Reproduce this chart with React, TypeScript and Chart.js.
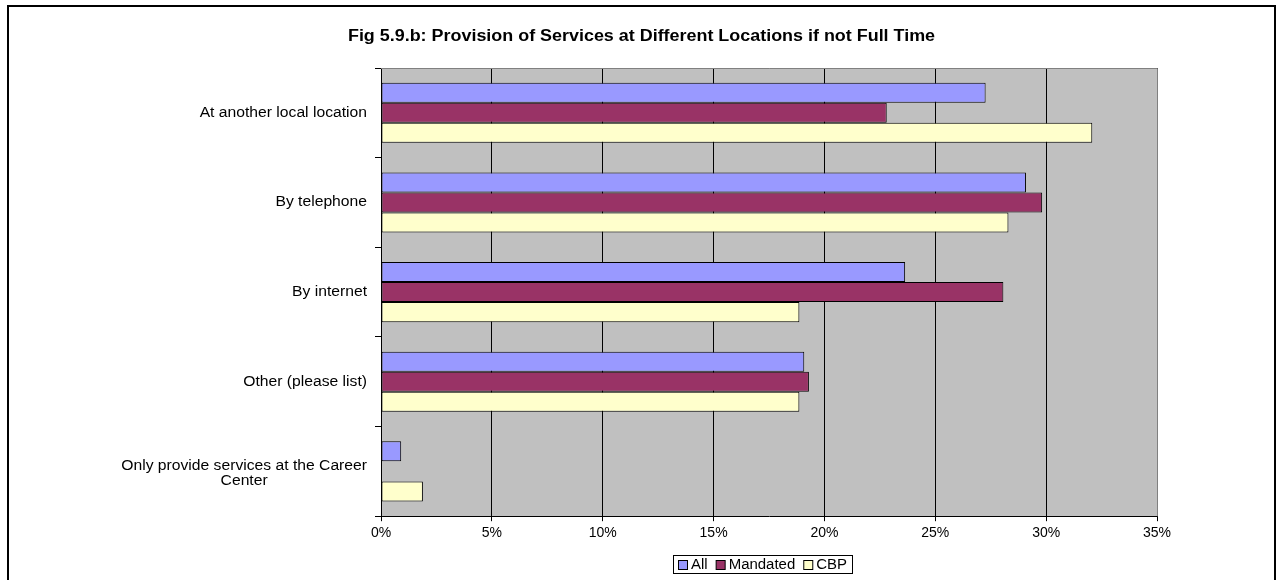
import { useEffect, useRef } from "react";
import { Chart, registerables } from "chart.js";

Chart.register(...registerables);

const titleText =
  "Fig 5.9.b: Provision of Services at Different Locations if not Full Time";
const categories: (string | string[])[] = [
  "At another local location",
  "By telephone",
  "By internet",
  "Other (please list)",
  ["Only provide services at the Career", "Center"],
];
const seriesNames = ["All", "Mandated", "CBP"];
const allValues = [27.27, 29.09, 23.64, 19.09, 0.91];
const mandatedValues = [22.81, 29.82, 28.07, 19.3, 0];
const cbpValues = [32.08, 28.3, 18.87, 18.87, 1.89];
const seriesColors = ["#9999FF", "#993366", "#FFFFCC"];
const xMin = 0;
const xMax = 35;
const xStep = 5;

const FONT = "Arial, 'Liberation Sans', sans-serif";

function drawStretched(
  ctx: CanvasRenderingContext2D,
  text: string,
  x: number,
  y: number,
  align: CanvasTextAlign,
  sx: number
) {
  ctx.save();
  ctx.translate(x, y);
  ctx.scale(sx, 1);
  ctx.textAlign = align;
  ctx.fillText(text, 0, 0);
  ctx.restore();
}

const plotBackground = {
  id: "plotBackground",
  beforeDraw(chart: any) {
    const { ctx, chartArea: a } = chart;
    ctx.save();
    ctx.fillStyle = "#C0C0C0";
    ctx.fillRect(a.left, a.top, a.right - a.left, a.bottom - a.top);
    ctx.restore();
  },
  beforeDatasetsDraw(chart: any) {
    const { ctx, chartArea: a } = chart;
    ctx.save();
    ctx.strokeStyle = "#808080";
    ctx.lineWidth = 1;
    ctx.beginPath();
    ctx.moveTo(a.left, Math.round(a.top) + 0.5);
    ctx.lineTo(Math.round(a.right) + 0.5, Math.round(a.top) + 0.5);
    ctx.lineTo(Math.round(a.right) + 0.5, a.bottom);
    ctx.stroke();
    ctx.restore();
  },
};

const titleDraw = {
  id: "titleDraw",
  afterDraw(chart: any) {
    const { ctx } = chart;
    ctx.save();
    ctx.font = `bold 16px ${FONT}`;
    ctx.fillStyle = "#000";
    ctx.textBaseline = "middle";
    drawStretched(ctx, titleText, chart.width / 2, 37, "center", 1.12);
    ctx.restore();
  },
};

const categoryLabels = {
  id: "categoryLabels",
  afterDraw(chart: any) {
    const { ctx } = chart;
    const yScale = chart.scales.y;
    const labels = chart.data.labels as (string | string[])[];
    const rightEdge = 367;
    const lh = 15;
    const sx = 1.12;
    ctx.save();
    ctx.font = `14px ${FONT}`;
    ctx.fillStyle = "#000";
    ctx.textBaseline = "middle";
    labels.forEach((lab, i) => {
      const lines = Array.isArray(lab) ? lab : [lab];
      const maxW = Math.max(...lines.map((l) => ctx.measureText(l).width)) * sx;
      const cx = rightEdge - maxW / 2;
      const cy = yScale.getPixelForTick(i) + (lines.length > 1 ? 2 : 0);
      lines.forEach((l, j) => {
        drawStretched(ctx, l, cx, cy - ((lines.length - 1) * lh) / 2 + j * lh, "center", sx);
      });
    });
    ctx.restore();
  },
};

const legendBox = {
  id: "legendBox",
  afterDraw(chart: any) {
    const { ctx, chartArea: a } = chart;
    const ds = chart.data.datasets;
    ctx.save();
    ctx.font = `14px ${FONT}`;
    const sx = 1.07;
    const marker = 9;
    const gapMarkerText = 3;
    const gapItems = 8;
    const padX = 5;
    const widths = ds.map((d: any) => ctx.measureText(d.label).width * sx);
    let total = padX * 2;
    widths.forEach((w: number, i: number) => {
      total += marker + 1 + gapMarkerText + w + (i < widths.length - 1 ? gapItems : 0);
    });
    const cx = (a.left + a.right) / 2 - 6.5;
    const left = Math.round(cx - total / 2);
    const top = 555;
    const h = 18;
    ctx.strokeStyle = "#000";
    ctx.lineWidth = 1;
    ctx.strokeRect(left + 0.5, top + 0.5, Math.round(total), h);
    let x = left + padX;
    const cy = top + h / 2 + 0.5;
    ds.forEach((d: any, i: number) => {
      const my = Math.round(cy - marker / 2) + 0.5;
      ctx.fillStyle = d.backgroundColor;
      ctx.fillRect(x + 0.5, my, marker, marker);
      ctx.strokeStyle = "#000";
      ctx.strokeRect(x + 0.5, my, marker, marker);
      x += marker + 1 + gapMarkerText;
      ctx.fillStyle = "#000";
      ctx.textBaseline = "middle";
      drawStretched(ctx, d.label, x, cy + 1, "left", sx);
      x += widths[i] + gapItems;
    });
    ctx.restore();
  },
};

export default function App() {
  const ref = useRef<HTMLCanvasElement | null>(null);

  useEffect(() => {
    if (!ref.current) return;
    const values = [allValues, mandatedValues, cbpValues];
    const chart = new Chart(ref.current, {
      type: "bar",
      data: {
        labels: categories as any,
        datasets: seriesNames.map((name, i) => ({
          label: name,
          data: values[i],
          backgroundColor: seriesColors[i],
          borderColor: "#000",
          borderWidth: 1,
          borderSkipped: false,
          categoryPercentage: 0.67,
          barPercentage: 1,
        })),
      },
      options: {
        indexAxis: "y",
        responsive: false,
        animation: false,
        devicePixelRatio: 1,
        layout: { padding: { left: 0, right: 0, top: 68, bottom: 34 } },
        plugins: {
          legend: { display: false },
          tooltip: { enabled: false },
          title: { display: false },
        },
        scales: {
          x: {
            type: "linear",
            min: xMin,
            max: xMax,
            ticks: {
              stepSize: xStep,
              color: "#000",
              font: { family: FONT, size: 14 },
              padding: 4,
              callback: (v: any) => `${v}%`,
            },
            grid: { color: "#000", lineWidth: 1, tickLength: 5, drawTicks: true },
            border: { color: "#000", width: 1 },
          },
          y: {
            type: "category",
            ticks: { display: false },
            grid: {
              drawOnChartArea: false,
              drawTicks: true,
              tickLength: 6,
              color: "#000",
              offset: true,
            },
            border: { color: "#000", width: 1 },
            afterFit: (s: any) => {
              s.width = 381;
            },
          },
          y2: {
            type: "linear",
            position: "right",
            display: true,
            ticks: { display: false },
            grid: { display: false },
            border: { display: false },
            afterFit: (s: any) => {
              s.width = 126;
            },
          },
        },
      },
      plugins: [plotBackground, titleDraw, categoryLabels, legendBox],
    } as any);
    return () => chart.destroy();
  }, []);

  return (
    <>
      <div
        style={{
          position: "fixed",
          left: 0,
          top: 0,
          width: 1283,
          height: 580,
          background: "#fff",
        }}
      >
        <canvas ref={ref} width={1283} height={580} style={{ display: "block" }} />
      </div>
      <div
        style={{
          position: "fixed",
          left: 7,
          top: 5,
          width: 1269,
          height: 620,
          border: "2px solid #000",
          boxSizing: "border-box",
          pointerEvents: "none",
        }}
      />
    </>
  );
}
